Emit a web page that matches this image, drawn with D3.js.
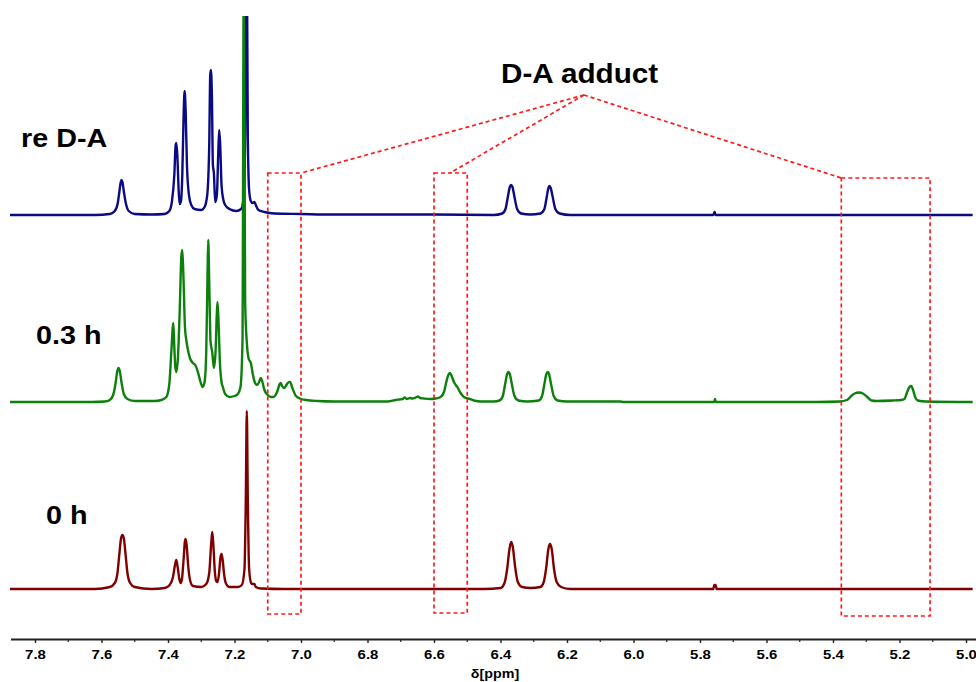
<!DOCTYPE html>
<html>
<head>
<meta charset="utf-8">
<script src="https://cdn.jsdelivr.net/npm/d3@7"></script>
<style>
  body { margin: 0; background: #fff; }
  text { font-family: "Liberation Sans", Arial, sans-serif; font-weight: bold; }
</style>
</head>
<body>
<div id="container"></div>
<script>
// ------ Data (ppm, intensity) ------
const spec0h = [
  [7.88,0],[7.62,0],[7.575,2],[7.56,6],[7.552,16],[7.546,36],[7.541,51],[7.537,54],[7.533,51],
  [7.528,36],[7.522,16],[7.514,6],[7.50,2],[7.45,0],[7.41,1],[7.395,4],[7.385,12],[7.379,24],
  [7.375,29],[7.371,22],[7.366,10],[7.362,6],[7.358,10],[7.353,30],[7.349,48],[7.347,50],
  [7.344,44],[7.339,22],[7.333,8],[7.325,3],[7.30,2],[7.285,5],[7.276,16],[7.270,46],[7.267,57],
  [7.264,46],[7.259,17],[7.255,8],[7.251,7],[7.247,14],[7.242,32],[7.239,35],[7.236,30],
  [7.231,14],[7.225,5],[7.215,2],[7.19,2],[7.178,4],[7.170,20],[7.166,90],[7.163,178],
  [7.160,90],[7.156,20],[7.150,6],[7.146,5],[7.140,5],[7.136,2],[7.12,0.5],[7.05,0],
  [6.45,0],[6.40,1],[6.388,6],[6.380,20],[6.373,40],[6.368,47],[6.363,42],[6.356,22],[6.348,7],
  [6.335,2],[6.31,1],[6.28,2],[6.27,7],[6.263,20],[6.256,40],[6.251,45],[6.246,40],[6.239,20],
  [6.231,7],[6.218,2],[6.19,0],[5.76,0],[5.757,4],[5.753,4],[5.75,0],[4.98,0]
];

const spec03h = [
  [7.88,0],[7.63,0],[7.59,0.5],[7.575,2],[7.565,7],[7.558,18],[7.553,30],[7.549,34],[7.545,31],
  [7.540,20],[7.533,8],[7.522,3],[7.50,1],[7.44,1],[7.42,2],[7.405,5],[7.396,18],[7.390,50],
  [7.384,79],[7.381,55],[7.378,35],[7.375,30],[7.370,45],[7.364,100],[7.360,145],[7.357,152],
  [7.354,130],[7.349,75],[7.345,62],[7.340,52],[7.333,43],[7.325,39],[7.318,37],[7.310,30],
  [7.303,21],[7.296,15],[7.290,20],[7.285,50],[7.281,130],[7.279,162],[7.276,120],[7.272,60],
  [7.267,50],[7.262,34],[7.257,50],[7.253,90],[7.251,100],[7.248,80],[7.244,40],[7.239,20],
  [7.235,15],[7.228,8],[7.215,5],[7.200,6],[7.190,8],[7.182,15],[7.176,60],[7.172,430],
  [7.168,100],[7.163,60],[7.158,44],[7.150,38],[7.145,28],[7.138,19],[7.132,17],[7.126,20],
  [7.121,24],[7.116,20],[7.110,12],[7.100,7],[7.090,5],[7.083,5],[7.072,10],[7.064,18],
  [7.061,19],[7.057,16],[7.050,14],[7.044,17],[7.036,20],[7.033,20],[7.026,14],[7.015,6],
  [7.000,3],[6.985,2],[6.95,1],[6.90,0.5],[6.74,0.5],[6.715,2],[6.705,2.5],[6.695,3],
  [6.688,4.5],[6.682,3],[6.672,4],[6.665,3.5],[6.655,4.5],[6.648,5.5],[6.642,4],[6.630,3.5],
  [6.61,3],[6.595,3.5],[6.580,5],[6.570,10],[6.563,20],[6.557,27],[6.552,29],[6.547,26],
  [6.540,20],[6.530,15],[6.520,9],[6.510,5],[6.497,3.5],[6.480,1.5],[6.460,0.5],[6.42,0.5],
  [6.403,1.5],[6.393,6],[6.386,18],[6.380,28],[6.376,30],[6.372,28],[6.366,18],[6.358,6],
  [6.346,1.5],[6.32,0.5],[6.285,1.5],[6.275,6],[6.268,18],[6.262,28],[6.258,30],[6.254,28],
  [6.248,18],[6.240,6],[6.228,1.5],[6.20,0.5],[6.04,0.5],[6.03,0],[5.77,0],[5.757,0],
  [5.755,3],[5.752,0],[5.45,0],[5.38,0.5],[5.358,2],[5.345,6],[5.335,8.5],[5.322,9.5],
  [5.310,8.5],[5.297,5],[5.284,1.5],[5.27,1],[5.22,1.5],[5.195,2],[5.185,3],[5.178,9],
  [5.170,15],[5.165,16],[5.160,13],[5.153,5],[5.145,1.5],[5.12,0.5],[4.98,0]
];

const specReDA = [
  [7.88,0],[7.62,0],[7.575,1],[7.56,4],[7.551,12],[7.546,24],[7.542,33],[7.540,35],[7.537,33],
  [7.533,24],[7.527,12],[7.518,4],[7.50,1],[7.45,0.5],[7.41,1],[7.396,4],[7.388,14],[7.381,40],
  [7.377,70],[7.375,72],[7.372,60],[7.368,25],[7.365,11],[7.361,14],[7.357,40],[7.353,100],
  [7.350,124],[7.347,105],[7.343,50],[7.337,20],[7.330,10],[7.320,6],[7.300,5],[7.290,8],
  [7.282,20],[7.276,70],[7.273,140],[7.271,145],[7.268,120],[7.265,50],[7.262,42],[7.258,13],
  [7.253,20],[7.249,60],[7.246,85],[7.243,70],[7.239,30],[7.234,16],[7.228,10],[7.215,6],
  [7.195,4],[7.180,6],[7.172,20],[7.168,80],[7.164,320],[7.160,80],[7.156,25],[7.151,14],
  [7.146,12],[7.140,13],[7.136,10],[7.128,5],[7.11,3],[7.08,1.5],[7.0,1],[6.9,0.5],[6.6,0.5],
  [6.42,0],[6.395,1.5],[6.385,6],[6.378,18],[6.372,28],[6.368,30],[6.364,28],[6.358,18],
  [6.350,6],[6.338,1.5],[6.31,0.5],[6.28,1.5],[6.268,6],[6.261,18],[6.256,27],[6.253,29],
  [6.249,27],[6.243,18],[6.235,6],[6.222,1.5],[6.19,0],[5.76,0],[5.756,3],[5.753,0],[4.98,0]
];

const seriesNames = ["0 h", "0.3 h", "re D-A"];
const seriesData = [spec0h, spec03h, specReDA];
const tickValues = [7.8, 7.6, 7.4, 7.2, 7.0, 6.8, 6.6, 6.4, 6.2, 6.0, 5.8, 5.6, 5.4, 5.2, 5.0];
const minorTicks = [7.7, 7.5, 7.3, 7.1, 6.9, 6.7, 6.5, 6.3, 6.1, 5.9, 5.7, 5.5, 5.3, 5.1];
const adductRanges = [[7.10, 7.00], [6.60, 6.50], [5.375, 5.108]];
const adductLabel = "D-A adduct";
const axisTitle = "δ[ppm]";

// ------ Layout ------
const width = 976, height = 682;
const offsets = [0, 187, 374];
const colors = ["#800000", "#0b800b", "#0a0a84"];
const labelPos = [[46, 524], [36, 344], [21, 147]];

const svg = d3.select('#container').append('svg')
  .attr('width', width)
  .attr('height', height);

const x = d3.scaleLinear().domain([7.8, 5.0]).range([35, 966]);
const y = d3.scaleLinear().domain([0, 573]).range([589, 16]);

svg.append('defs').append('clipPath').attr('id', 'plotclip')
  .append('rect').attr('x', 10).attr('y', 16).attr('width', width - 10).attr('height', 623);

const plot = svg.append('g').attr('clip-path', 'url(#plotclip)');

// draw order: red, blue, green (green 7.17 line sits over the blue trace)
[0, 2, 1].forEach(i => {
  const line = d3.line()
    .x(d => x(d[0]))
    .y(d => y(d[1] + offsets[i]))
    .curve(d3.curveMonotoneX);
  plot.append('path')
    .datum(seriesData[i])
    .attr('fill', 'none')
    .attr('stroke', colors[i])
    .attr('stroke-width', 2.4)
    .attr('stroke-linejoin', 'round')
    .attr('d', line);
});

// series labels
seriesNames.forEach((n, i) => {
  svg.append('text')
    .attr('transform', `translate(${labelPos[i][0]},${labelPos[i][1]}) scale(1.15,1)`)
    .attr('font-size', 25)
    .attr('fill', '#000')
    .text(n);
});

// adduct boxes and pointer lines
const boxTop = [416, 416, 411], boxBottom = [-25, -24, -27];
const annot = svg.append('g')
  .attr('fill', 'none')
  .attr('stroke', '#ff1a1a')
  .attr('stroke-width', 1.7)
  .attr('stroke-dasharray', '4,3');

adductRanges.forEach((r, i) => {
  annot.append('rect')
    .attr('x', x(r[0]))
    .attr('y', y(boxTop[i]))
    .attr('width', x(r[1]) - x(r[0]))
    .attr('height', y(boxBottom[i]) - y(boxTop[i]));
});

const apex = [6.149, 494];
const targets = [[7.0, 416], [6.552, 416], [5.375, 411]];
targets.forEach(t => {
  annot.append('line')
    .attr('x1', x(apex[0])).attr('y1', y(apex[1]))
    .attr('x2', x(t[0])).attr('y2', y(t[1]));
});

svg.append('text')
  .attr('transform', 'translate(501,83) scale(1.1,1)')
  .attr('font-size', 27)
  .text(adductLabel);

// ------ x axis ------
const axisY = 639.5;
const axisG = svg.append('g').attr('transform', `translate(0,${axisY})`);

axisG.append('line')
  .attr('x1', x(x.invert(11))).attr('x2', x(x.invert(976)))
  .attr('stroke', '#222').attr('stroke-width', 2);

axisG.call(d3.axisBottom(x)
  .tickValues(tickValues)
  .tickSize(3.5)
  .tickFormat(d3.format('.1f')));

axisG.select('.domain').remove();
axisG.selectAll('.tick line').attr('stroke', '#222').attr('stroke-width', 1.4);
axisG.selectAll('.tick text')
  .attr('y', 19.5)
  .attr('dy', 0)
  .attr('font-size', 13)
  .attr('font-family', '"Liberation Sans", Arial, sans-serif')
  .attr('font-weight', 'bold')
  .attr('fill', '#000')
  .attr('transform', 'scale(1.15,1)');

axisG.selectAll('.minor').data(minorTicks)
  .enter().append('line')
  .attr('class', 'minor')
  .attr('x1', d => x(d)).attr('x2', d => x(d))
  .attr('y1', 0).attr('y2', 2.5)
  .attr('stroke', '#222').attr('stroke-width', 1.2);

svg.append('text')
  .attr('transform', 'translate(495,678) scale(1.1,1)')
  .attr('text-anchor', 'middle')
  .attr('font-size', 13)
  .text(axisTitle);
</script>
</body>
</html>
